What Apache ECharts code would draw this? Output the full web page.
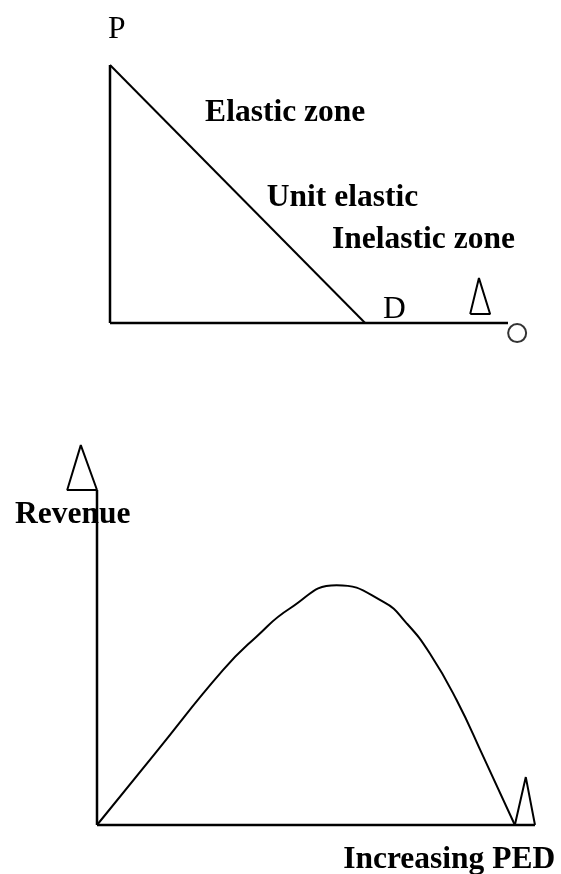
<!DOCTYPE html>
<html>
<head>
<meta charset="utf-8">
<script src="https://cdn.jsdelivr.net/npm/echarts@6/dist/echarts.min.js"></script>
<style>
  html, body { margin: 0; padding: 0; background: #fff; }
  #main { width: 561px; height: 874px; }
</style>
</head>
<body>
<div id="main"></div>
<script>
// top diagram: demand curve (x = quantity, y = price, axis runs 0..100)
var demandAxisY = [[0, 0], [0, 100]];
var demandAxisX = [[0, 0], [100, 0]];
var demandLine = [[0, 100], [64.1, 0]];
var demandMarker = [[90.5, 3.5], [92.7, 17.4], [95.5, 3.5], [90.5, 3.5]];
var demandCircle = [[102.3, -3.9]];
var demandLabels = [
    {text: 'P', pos: [-0.5, 113.7], bold: false},
    {text: 'Elastic zone', pos: [23.9, 81.4], bold: true},
    {text: 'Unit elastic', pos: [39.4, 48.4], bold: true},
    {text: 'Inelastic zone', pos: [55.8, 32.3], bold: true},
    {text: 'D', pos: [68.6, 5.2], bold: false}
];

// bottom diagram: revenue against PED (axis runs 0..100)
var revAxisY = [[0, 0], [0, 100]];
var revAxisX = [[0, 0], [100, 0]];
var revArrowY = [[0, 100], [-6.8, 100], [-3.7, 113.4], [0, 100]];
var revArrowX = [[95.4, 0], [97.9, 14.3], [100, 0]];
var revCurve = [
    [0, 0], [13.6, 21.9], [28.8, 46.3], [36.4, 56.2], [44.1, 64.7],
    [54.7, 71.6], [65.4, 66.6], [70.7, 60.2], [76.0, 51.2], [82.1, 37.3],
    [88.2, 20.4], [95.4, 0]
];
var revLabels = [
    {text: 'Revenue', pos: [-18.7, 92.5], bold: true},
    {text: 'Increasing PED', pos: [56.2, -10.5], bold: true}
];
</script>
<script>
(function () {
    var myChart = echarts.init(document.getElementById('main'));

    function lineSeries(grid, data, width, smooth) {
        return {
            type: 'line',
            xAxisIndex: grid,
            yAxisIndex: grid,
            data: data,
            symbol: 'none',
            smooth: smooth || false,
            clip: false,
            silent: true,
            z: 3,
            lineStyle: {color: '#000', width: width}
        };
    }

    function labelSeries(grid, labels) {
        return {
            type: 'scatter',
            xAxisIndex: grid,
            yAxisIndex: grid,
            symbolSize: 0,
            clip: false,
            silent: true,
            z: 1,
            itemStyle: {opacity: 1},
            data: labels.map(function (l) {
                return {
                    value: l.pos,
                    label: {
                        show: true,
                        formatter: l.text,
                        position: [0, 0],
                        align: 'left',
                        verticalAlign: 'middle',
                        color: '#000',
                        fontFamily: 'Liberation Serif',
                        fontSize: 31.5,
                        fontWeight: l.bold ? 'bold' : 'normal'
                    }
                };
            })
        };
    }

    // axis ranges are widened past 0..100 so arrow heads and labels stay inside
    var option = {
        animation: false,
        backgroundColor: '#fff',
        grid: [
            {left: 90.1, top: 0.5, width: 437.8, height: 348.3},
            {left: 9.4, top: 423, width: 547.5, height: 435.5}
        ],
        xAxis: [
            {type: 'value', gridIndex: 0, min: -5, max: 105, show: false},
            {type: 'value', gridIndex: 1, min: -20, max: 105, show: false}
        ],
        yAxis: [
            {type: 'value', gridIndex: 0, min: -10, max: 125, show: false},
            {type: 'value', gridIndex: 1, min: -10, max: 120, show: false}
        ],
        series: [
            lineSeries(0, demandAxisY, 2.5),
            lineSeries(0, demandAxisX, 2.5),
            lineSeries(0, demandLine, 2),
            lineSeries(0, demandMarker, 2),
            {
                type: 'scatter',
                xAxisIndex: 0,
                yAxisIndex: 0,
                data: demandCircle,
                symbol: 'circle',
                symbolSize: 18,
                clip: false,
                silent: true,
                z: 3,
                itemStyle: {color: '#fff', borderColor: '#000', borderWidth: 2}
            },
            labelSeries(0, demandLabels),
            lineSeries(1, revAxisY, 2.5),
            lineSeries(1, revAxisX, 2.5),
            lineSeries(1, revArrowY, 2),
            lineSeries(1, revArrowX, 2),
            lineSeries(1, revCurve, 2, 0.5),
            labelSeries(1, revLabels)
        ]
    };

    myChart.setOption(option);
})();
</script>
</body>
</html>
